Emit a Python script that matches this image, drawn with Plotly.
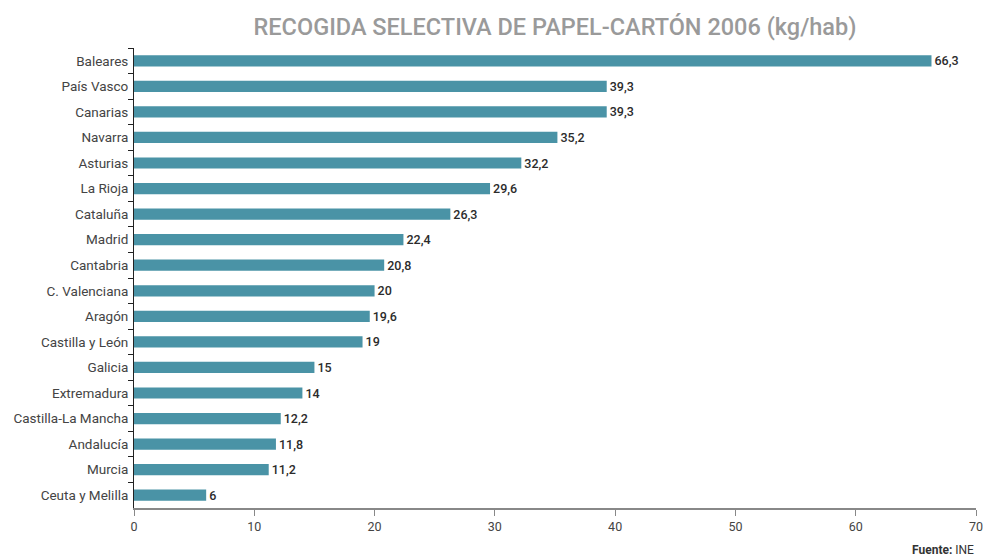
import plotly.graph_objects as go

regions = ["Baleares", "País Vasco", "Canarias", "Navarra", "Asturias", "La Rioja",
           "Cataluña", "Madrid", "Cantabria", "C. Valenciana", "Aragón",
           "Castilla y León", "Galicia", "Extremadura", "Castilla-La Mancha",
           "Andalucía", "Murcia", "Ceuta y Melilla"]
values = [66.3, 39.3, 39.3, 35.2, 32.2, 29.6, 26.3, 22.4, 20.8, 20, 19.6, 19, 15, 14,
          12.2, 11.8, 11.2, 6]
x_ticks = [0, 10, 20, 30, 40, 50, 60, 70]

labels = [f"{v:g}".replace(".", ",") for v in values]

FONT = "Roboto"

fig = go.Figure(go.Bar(
    x=values, y=regions, orientation="h",
    marker=dict(color="#4A93A6", line=dict(width=0)),
    width=0.44,
    text=labels, textposition="outside", cliponaxis=False, constraintext="none",
    textfont=dict(family=FONT, size=12.5, color="#2b2b2b", weight=500),
    hoverinfo="skip",
))

fig.update_layout(
    width=983, height=556,
    margin=dict(l=134, r=7, t=48, b=48),
    paper_bgcolor="white", plot_bgcolor="white",
    separators=", ",
    showlegend=False,
    title=dict(text="RECOGIDA SELECTIVA DE PAPEL-CARTÓN 2006 (kg/hab)",
               x=555 / 983, xanchor="center", y=1 - 27 / 556, yanchor="middle",
               font=dict(family=FONT, size=23.5, color="#9a9a9a", weight=500)),
    font=dict(family=FONT, size=13, color="#444"),
)

fig.update_xaxes(
    range=[0, 70], tickvals=x_ticks, showgrid=False, zeroline=False,
    showline=True, linecolor="#888", linewidth=2,
    ticks="outside", ticklen=6, tickcolor="#888", tickwidth=1,
    tickfont=dict(family=FONT, size=12.5, color="#444"),
    ticklabeloverflow="allow", automargin=False,
)
fig.update_yaxes(
    autorange="reversed", showgrid=False, zeroline=False, automargin=False,
    showline=True, linecolor="#222", linewidth=1,
    ticks="outside", tickson="boundaries", ticklen=5, tickcolor="#222",
    tickfont=dict(family=FONT, size=13.5, color="#444"),
    ticklabelstandoff=2,
)

fig.add_annotation(
    text="<b>Fuente:</b> INE", xref="paper", yref="paper",
    x=1, y=-42 / 460, xanchor="right", yanchor="middle", showarrow=False,
    font=dict(family=FONT, size=12, color="#333"),
)

fig.write_html("out.html", config={"displayModeBar": False},
               post_script="document.body.style.margin='0';")
